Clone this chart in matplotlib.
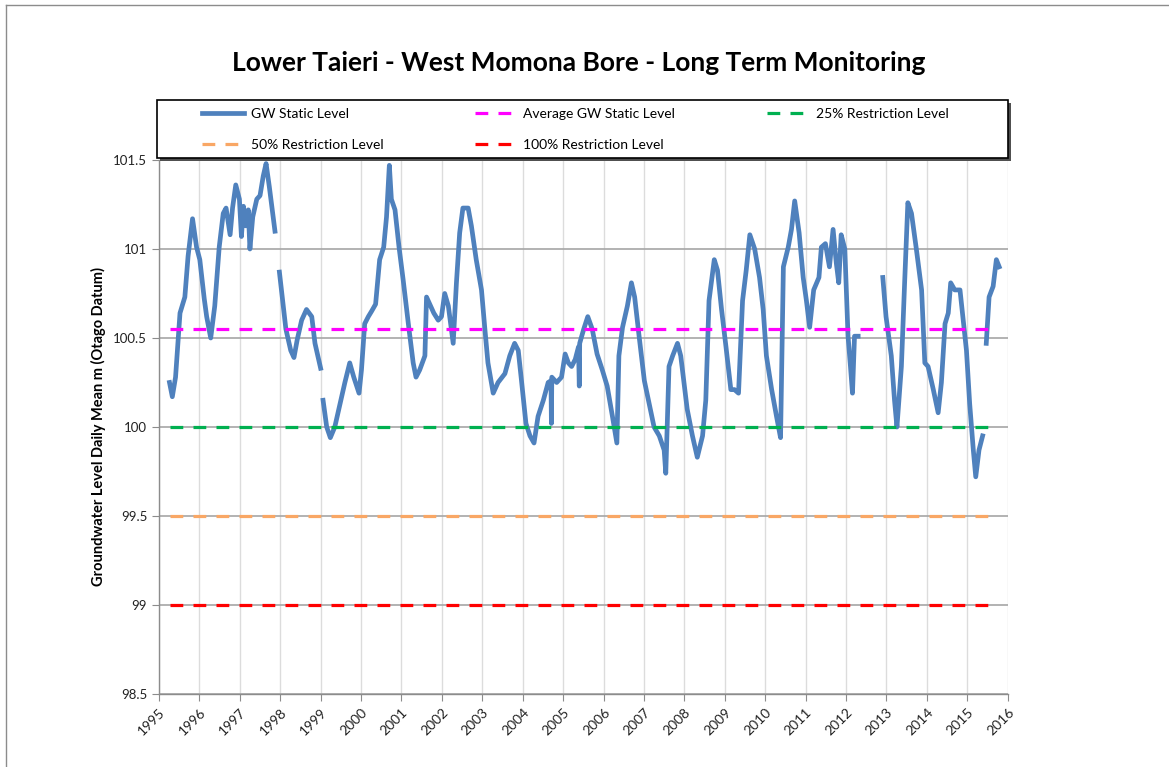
import numpy as np
import matplotlib
matplotlib.use("Agg")
import matplotlib.pyplot as plt
from matplotlib.lines import Line2D
from matplotlib.patches import Rectangle

plt.rcParams['font.family'] = ['Lato', 'DejaVu Sans']

nan = np.nan

# groundwater level readings (decimal year, m), nan marks a data gap
dates = [
    1995.26, 1995.33, 1995.41, 1995.52, 1995.64, 1995.72, 1995.83, 1995.93, 1996.01, 1996.12,
    1996.18, 1996.28, 1996.38, 1996.49, 1996.59, 1996.66, 1996.76, 1996.82, 1996.90, 1996.99,
    1997.04, 1997.09, 1997.15, 1997.21, 1997.25, 1997.32, 1997.42, 1997.50, 1997.58, 1997.65,
    1997.73, 1997.87, 1997.92,
    1997.98, 1998.06, 1998.14, 1998.26, 1998.34, 1998.42, 1998.53, 1998.65, 1998.78, 1998.86,
    1999.00, 1999.03,
    1999.06, 1999.15, 1999.24, 1999.35, 1999.48, 1999.60, 1999.72, 1999.82, 1999.95, 2000.01,
    2000.09, 2000.18, 2000.26, 2000.36, 2000.46, 2000.56, 2000.63, 2000.70, 2000.75, 2000.84,
    2000.94, 2001.04, 2001.17, 2001.29, 2001.36, 2001.45, 2001.58, 2001.62, 2001.72, 2001.80,
    2001.91, 2001.99, 2002.07, 2002.16, 2002.28, 2002.36, 2002.44, 2002.52, 2002.65, 2002.73,
    2002.85, 2002.98, 2003.06, 2003.14, 2003.27, 2003.39, 2003.56, 2003.68, 2003.80, 2003.89,
    2003.97, 2004.08, 2004.18, 2004.28, 2004.38, 2004.51, 2004.63, 2004.70, 2004.71, 2004.72,
    2004.84, 2004.96, 2005.05, 2005.13, 2005.21, 2005.30, 2005.38, 2005.40, 2005.41, 2005.51,
    2005.61, 2005.72, 2005.84, 2005.97, 2006.09, 2006.22, 2006.33, 2006.38, 2006.47, 2006.59,
    2006.69, 2006.77, 2006.88, 2007.01, 2007.13, 2007.25, 2007.38, 2007.50, 2007.54, 2007.62,
    2007.71, 2007.83, 2007.91, 2007.99, 2008.07, 2008.20, 2008.32, 2008.45, 2008.53, 2008.61,
    2008.74, 2008.82, 2008.92, 2009.03, 2009.15, 2009.24, 2009.34, 2009.44, 2009.53, 2009.62,
    2009.74, 2009.86, 2009.95, 2010.03, 2010.16, 2010.28, 2010.38, 2010.45, 2010.57, 2010.65,
    2010.73, 2010.84, 2010.94, 2011.02, 2011.10, 2011.20, 2011.33, 2011.39, 2011.49, 2011.59,
    2011.68, 2011.76, 2011.82, 2011.88, 2011.97, 2012.05, 2012.11, 2012.16, 2012.21, 2012.30,
    2012.60,
    2012.91, 2012.99, 2013.12, 2013.20, 2013.26, 2013.37, 2013.45, 2013.53, 2013.62, 2013.74,
    2013.87, 2013.95, 2014.03, 2014.16, 2014.28, 2014.36, 2014.45, 2014.53, 2014.59, 2014.69,
    2014.82, 2014.89, 2014.98, 2015.06, 2015.15, 2015.21, 2015.29, 2015.38, 2015.42,
    2015.47, 2015.54, 2015.64, 2015.72, 2015.79,
]
levels = [
    100.25, 100.17, 100.28, 100.64, 100.73, 100.96, 101.17, 101.01, 100.94, 100.72,
    100.62, 100.50, 100.68, 101.01, 101.20, 101.23, 101.08, 101.23, 101.36, 101.28,
    101.07, 101.24, 101.13, 101.22, 101.00, 101.18, 101.28, 101.30, 101.41, 101.48,
    101.35, 101.10, nan,
    100.87, 100.71, 100.55, 100.43, 100.39, 100.49, 100.60, 100.66, 100.62, 100.47,
    100.33, nan,
    100.15, 100.00, 99.94, 100.00, 100.13, 100.25, 100.36, 100.28, 100.19, 100.32,
    100.58, 100.62, 100.65, 100.69, 100.94, 101.01, 101.18, 101.47, 101.28, 101.22,
    101.01, 100.83, 100.58, 100.36, 100.28, 100.32, 100.40, 100.73, 100.68, 100.64,
    100.60, 100.62, 100.75, 100.68, 100.47, 100.81, 101.09, 101.23, 101.23, 101.13,
    100.94, 100.77, 100.56, 100.36, 100.19, 100.25, 100.30, 100.40, 100.47, 100.43,
    100.26, 100.02, 99.95, 99.91, 100.06, 100.15, 100.25, 100.26, 100.02, 100.28,
    100.25, 100.28, 100.41, 100.36, 100.34, 100.38, 100.45, 100.23, 100.47, 100.55,
    100.62, 100.55, 100.41, 100.32, 100.23, 100.06, 99.91, 100.40, 100.56, 100.68,
    100.81, 100.73, 100.51, 100.26, 100.13, 100.00, 99.95, 99.87, 99.74, 100.34,
    100.40, 100.47, 100.40, 100.25, 100.10, 99.95, 99.83, 99.95, 100.15, 100.71,
    100.94, 100.88, 100.66, 100.45, 100.21, 100.21, 100.19, 100.71, 100.88, 101.08,
    101.00, 100.84, 100.66, 100.40, 100.21, 100.06, 99.94, 100.90, 101.01, 101.11,
    101.27, 101.09, 100.84, 100.71, 100.56, 100.77, 100.84, 101.01, 101.03, 100.90,
    101.11, 100.92, 100.81, 101.08, 101.00, 100.51, 100.34, 100.19, 100.51, 100.51,
    nan,
    100.84, 100.62, 100.40, 100.15, 100.00, 100.34, 100.81, 101.26, 101.20, 101.00,
    100.77, 100.36, 100.34, 100.21, 100.08, 100.25, 100.58, 100.64, 100.81, 100.77,
    100.77, 100.62, 100.43, 100.13, 99.87, 99.72, 99.87, 99.95, nan,
    100.47, 100.73, 100.79, 100.94, 100.90,
]

# restriction / reference levels
ref_names = ['Average GW Static Level', '25% Restriction Level',
             '50% Restriction Level', '100% Restriction Level']
ref_levels = [100.55, 100.0, 99.5, 99.0]
ref_colors = ['#FF00FF', '#00B050', '#F9A765', '#FF0000']
ref_span = [1995.27, 2015.6]

years = list(range(1995, 2017))
yticks = [98.5, 99, 99.5, 100, 100.5, 101, 101.5]

fig = plt.figure(figsize=(11.69, 7.67), dpi=100)
ax = fig.add_axes([0.136, 0.0952, 0.726, 0.6962])

gw_line, = ax.plot(dates, levels, color='#4F81BD', lw=3.4, solid_joinstyle='round',
                   label='GW Static Level', zorder=3)

ref_lines = {}
for name, lvl, col in zip(ref_names, ref_levels, ref_colors):
    ln, = ax.plot(ref_span, [lvl, lvl], color=col, lw=2.3, dashes=(4.0, 3.2),
                  label=name, zorder=4)
    ref_lines[name] = ln

ax.set_xlim(1995, 2016)
ax.set_ylim(98.5, 101.5)
ax.set_xticks(years)
ax.set_xticklabels([str(y) for y in years], rotation=45, ha='right',
                   rotation_mode='anchor', fontsize=10, color='#222222')
ax.set_yticks(yticks)
ax.set_yticklabels(['%g' % v for v in yticks], fontsize=9.5, color='#222222')

ax.grid(axis='x', color='#DCDCDC', lw=1.0)
ax.grid(axis='y', color='#A6A6A6', lw=1.2)
ax.set_axisbelow(True)
for s in ['top', 'right']:
    ax.spines[s].set_visible(False)
for s in ['left', 'bottom']:
    ax.spines[s].set_color('#8C8C8C')
    ax.spines[s].set_linewidth(1.0)
ax.tick_params(axis='both', colors='#8C8C8C', length=5, labelcolor='#222222')
ax.tick_params(axis='x', pad=4)

ax.set_ylabel('Groundwater Level Daily Mean m (Otago Datum)', fontsize=10.5,
              fontweight='bold', labelpad=5)

# legend box with shadow, drawn above the plot area
fig.add_artist(Rectangle((0.1343 + 0.0026, 0.7940 - 0.0039), 0.728, 0.0756,
                         transform=fig.transFigure, facecolor='#505050',
                         edgecolor='none', zorder=5))
fig.add_artist(Rectangle((0.1343, 0.7940), 0.728, 0.0756, transform=fig.transFigure,
                         facecolor='white', edgecolor='black', lw=1.2, zorder=6))

handles = [gw_line, ref_lines['50% Restriction Level'],
           ref_lines['Average GW Static Level'], ref_lines['100% Restriction Level'],
           ref_lines['25% Restriction Level']]
leg = fig.legend(handles=handles, loc='center', ncol=3,
                 bbox_to_anchor=(0.492, 0.831), fontsize=10,
                 frameon=False, handlelength=3.0, handletextpad=0.5,
                 columnspacing=6.6, labelspacing=1.35, borderpad=0.0)
leg.set_zorder(7)

fig.text(0.495, 0.918, 'Lower Taieri - West Momona Bore - Long Term Monitoring',
         ha='center', va='center', fontsize=19, fontweight='bold', color='black')

# thin outer frame of the chart area
fig.add_artist(Line2D([0.005, 0.005], [0.0, 0.993], color='#8C8C8C', lw=1.0))
fig.add_artist(Line2D([0.005, 1.0], [0.993, 0.993], color='#8C8C8C', lw=1.0))

fig.savefig('out.png', dpi=100)
